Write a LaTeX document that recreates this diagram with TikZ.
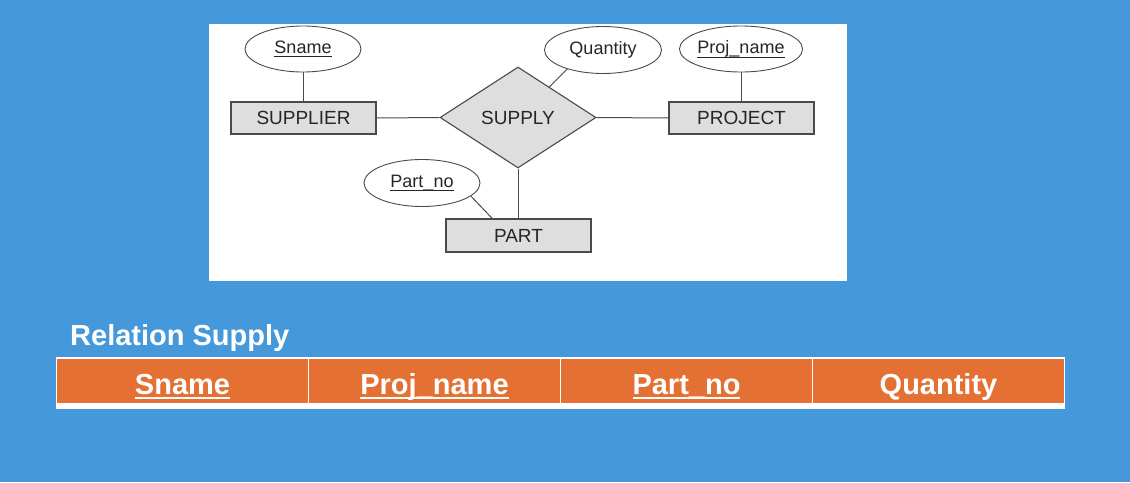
\documentclass[tikz,border=0pt]{standalone}
\usepackage{fontspec}
\setmainfont{Liberation Sans}
\usetikzlibrary{shapes.geometric,calc}
\definecolor{bgblue}{HTML}{4599DA}
\definecolor{tblorange}{HTML}{E57033}
\definecolor{erfill}{HTML}{DEDEDE}
\definecolor{erline}{HTML}{4A4A4A}
\newcommand\ulx[3]{\setbox0=\hbox{#3}\makebox[0pt][l]{\rule[-#1]{\wd0}{#2}}\box0}
\tikzset{
  entity/.style={rectangle, draw=erline, fill=erfill, line width=1.1pt, minimum width=145pt, minimum height=32pt, inner sep=0pt, font=\fontsize{19}{22}\selectfont, text=black!85},
  relship/.style={diamond, draw=erline, fill=erfill, line width=1.1pt, minimum width=156pt, minimum height=101pt, inner sep=0pt, aspect=1.56, font=\fontsize{19}{22}\selectfont, text=black!85},
  attr/.style={ellipse, draw=erline, fill=white, line width=0.9pt, minimum width=116pt, minimum height=46pt, inner sep=0pt, font=\fontsize{18}{21}\selectfont, text=black!85},
  erlink/.style={draw=erline, line width=1pt},
  cell/.style={rectangle, fill=tblorange, draw=white, line width=1.5pt, minimum width=252pt, minimum height=46pt, inner sep=0pt, text=white, font=\bfseries\fontsize{29}{32}\selectfont, text height=32pt, text depth=6pt},
}
\begin{document}
\begin{tikzpicture}[x=1pt,y=-1pt]
\useasboundingbox (0,0) rectangle (1130,482);
\fill[bgblue] (0,0) rectangle (1130,482);
\fill[white] (209,24) rectangle (847,281);
% ER diagram
\node[attr] (sname) at (303,49) {\ulx{4pt}{0.8pt}{Sname}};
\node[attr, minimum width=117pt, minimum height=47pt] (qty) at (603,50) {Quantity};
\node[attr] (projn) at (741,49) {\ulx{4pt}{0.8pt}{Proj\_name}};
\node[attr, minimum height=47pt] (partno) at (422,183) {\ulx{4pt}{0.8pt}{Part\_no}};
\node[entity] (supplier) at (303.5,118) {SUPPLIER};
\node[entity] (project) at (741.5,118) {PROJECT};
\node[entity, minimum height=33pt] (part) at (518.5,235.5) {PART};
\node[relship] (supply) at (518,117.5) {SUPPLY};
\draw[erlink] (sname.south) -- (sname.south |- supplier.north);
\draw[erlink] (projn.south) -- (projn.south |- project.north);
\draw[erlink] (supplier.east) -- (supply.west);
\draw[erlink] (supply.east) -- (project.west);
\draw[erlink] (supply.south) -- (supply.south |- part.north);
\draw[erlink] (qty.208) -- ($(supply.north)!0.4!(supply.east)$);
\draw[erlink] (partno.345) -- ($(part.north west)!0.32!(part.north east)$);
% Relation table
\node[anchor=base west, text=white, font=\bfseries\fontsize{29}{32}\selectfont, inner sep=0pt] (title) at (70,345) {Relation Supply};
\node[cell] (c1) at (182.5,381) {\ulx{5pt}{2pt}{Sname}};
\node[cell] (c2) at (434.5,381) {\ulx{5pt}{2pt}{Proj\_name}};
\node[cell] (c3) at (686.5,381) {\ulx{5pt}{2pt}{Part\_no}};
\node[cell] (c4) at (938.5,381) {Quantity};
\draw[white, line width=4pt] ([yshift=-2pt]c1.south west) -- ([yshift=-2pt]c4.south east);
\end{tikzpicture}
\end{document}
